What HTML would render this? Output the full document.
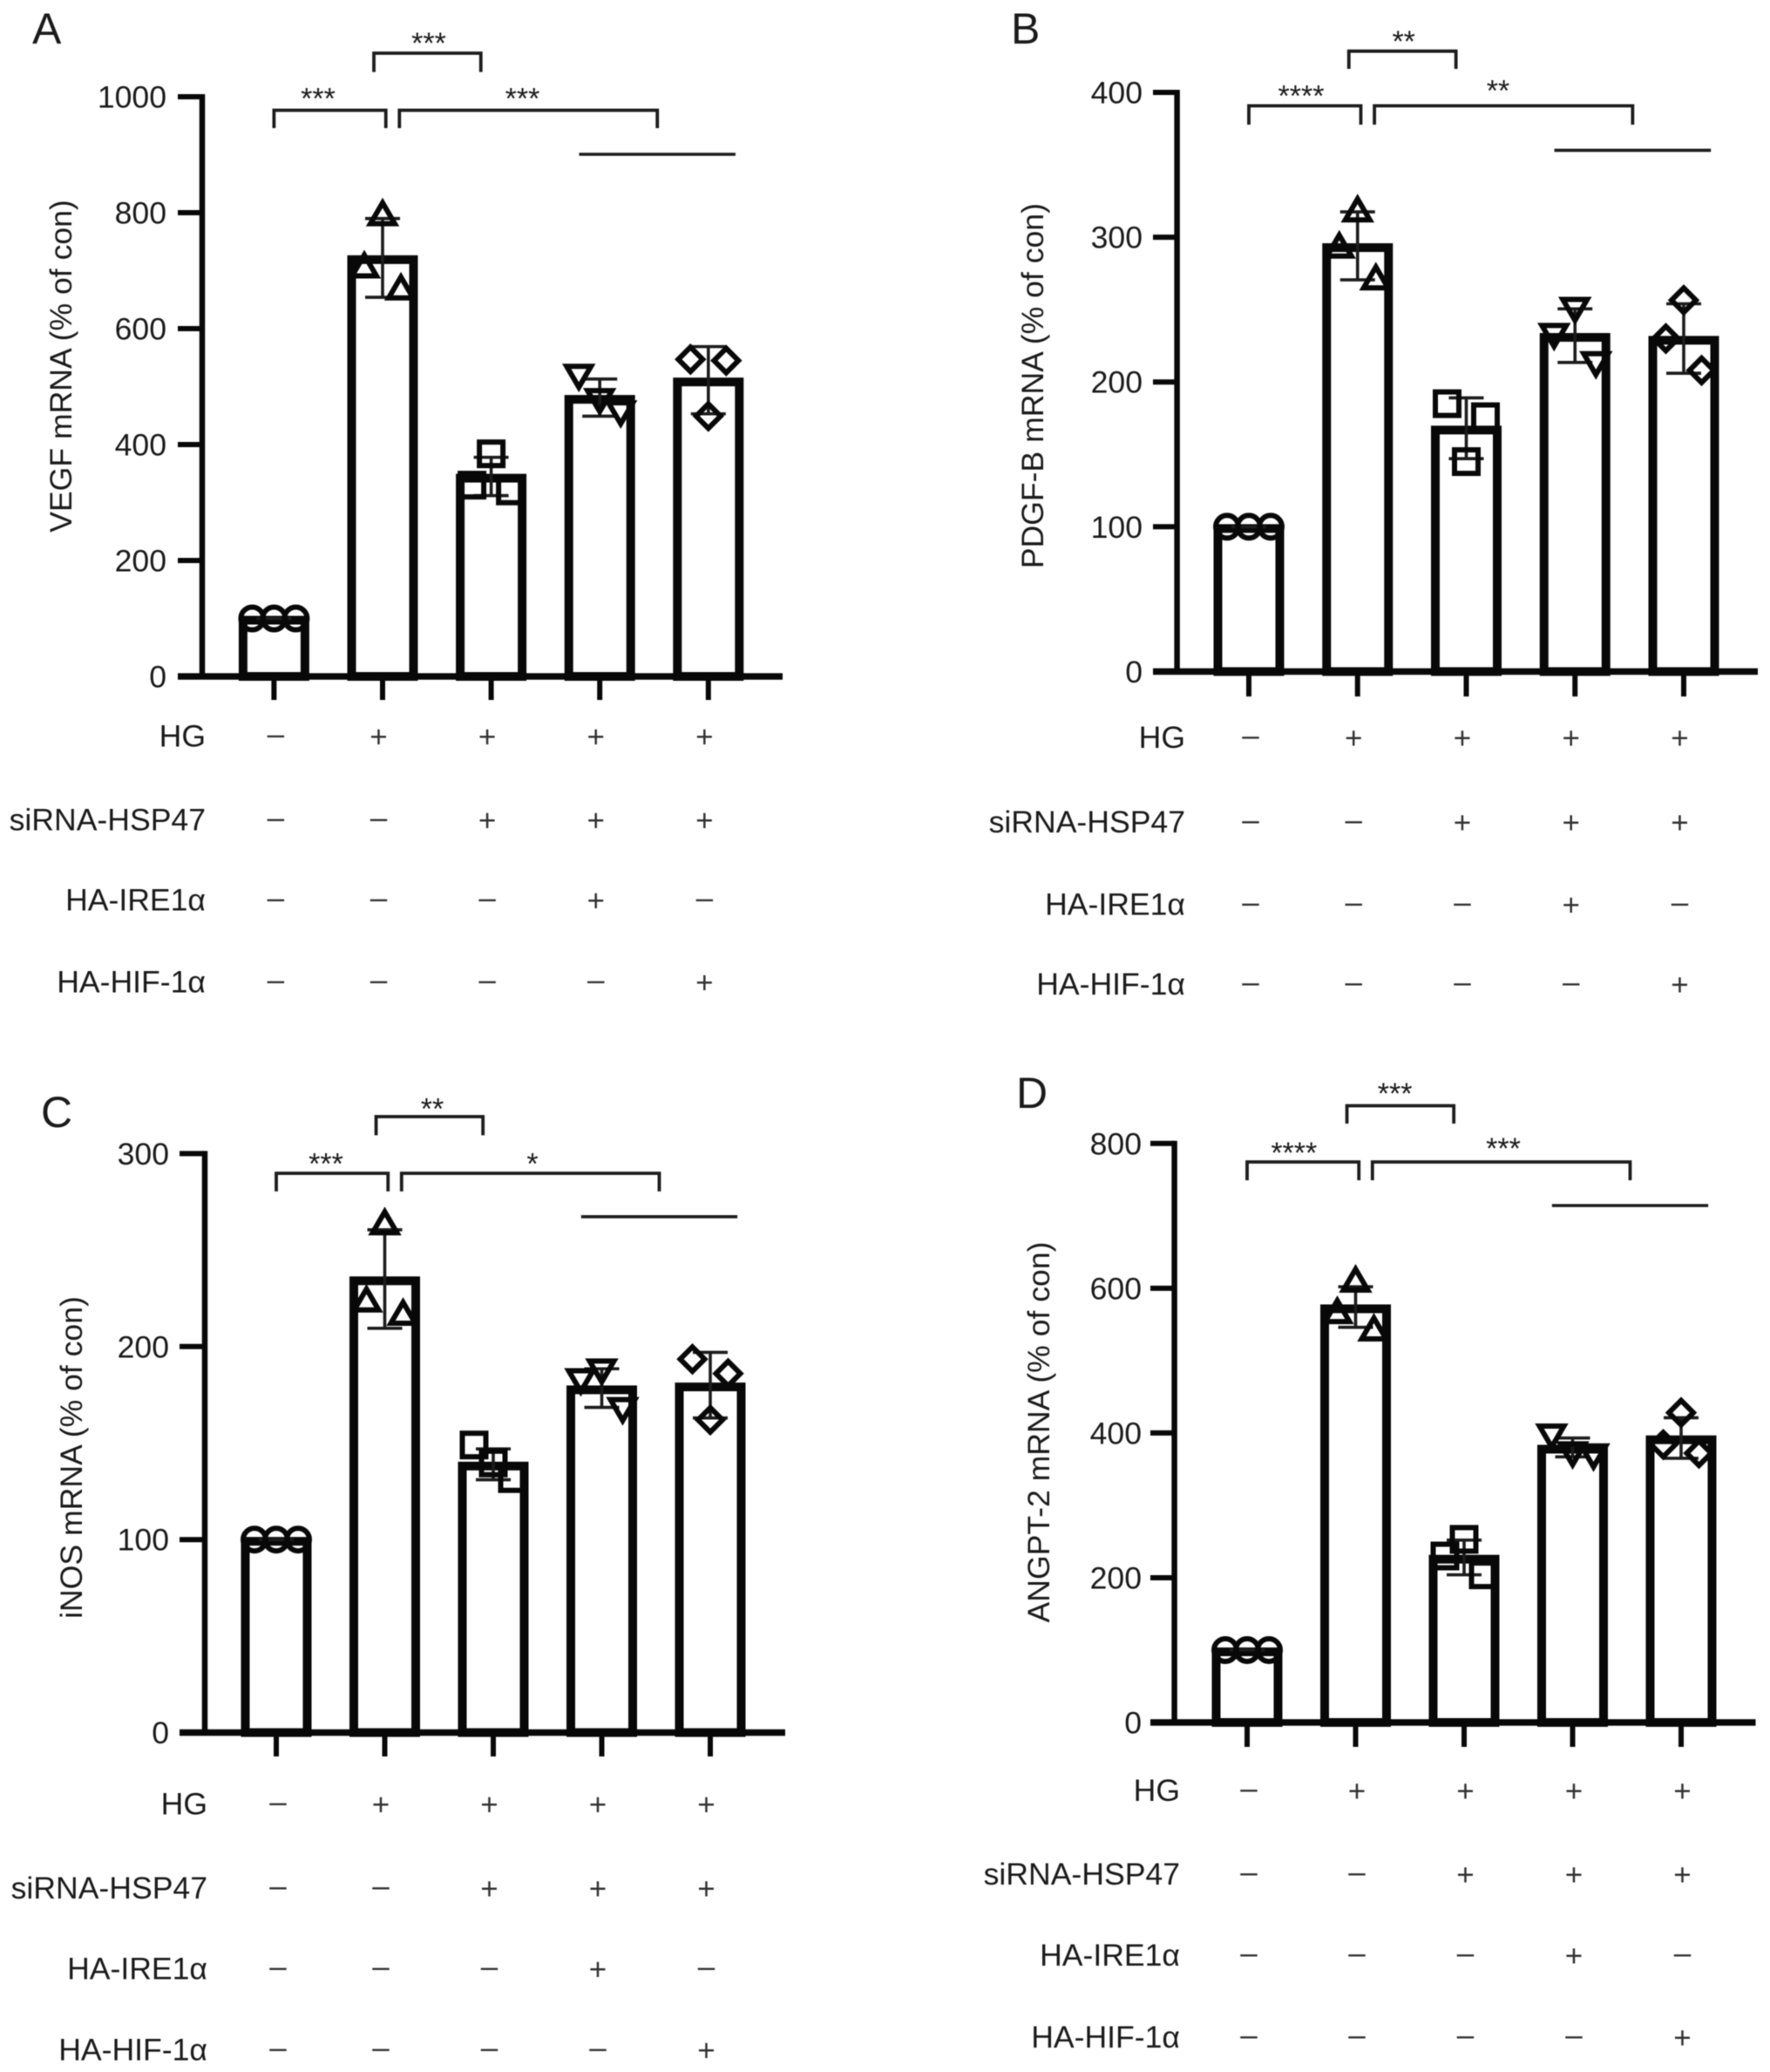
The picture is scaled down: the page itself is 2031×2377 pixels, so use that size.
<!DOCTYPE html>
<html lang="en">
<head>
<meta charset="utf-8">
<title>mRNA expression bar charts</title>
<style>
  html, body { margin: 0; padding: 0; background: #fff; }
  #figure { display: block; width: 2031px; height: 2377px; filter: blur(0.6px); }
  text { font-family: "Liberation Sans", "DejaVu Sans", sans-serif; fill: #1a1a1a; }
</style>
</head>
<body>
<svg id="figure" xmlns="http://www.w3.org/2000/svg" width="2031" height="2377" viewBox="0 0 2031 2377"></svg>
<script>
/* ---------- shared categories ---------- */
const categories = ['control', 'HG', 'HG-siHSP47', 'HG-siHSP47-IRE1a', 'HG-siHSP47-HIF1a'];
const rowLabels = ['HG', 'siRNA-HSP47', 'HA-IRE1\u03b1', 'HA-HIF-1\u03b1'];
const rowHG = ['-', '+', '+', '+', '+'];
const rowSiRNA = ['-', '-', '+', '+', '+'];
const rowIRE = ['-', '-', '-', '+', '-'];
const rowHIF = ['-', '-', '-', '-', '+'];

/* ---------- panel A ---------- */
const panelATicks = [0, 200, 400, 600, 800, 1000];
const panelAMeans = [100, 722, 345, 481, 511];
const panelASds = [0, 68, 33, 32, 58];
const panelAPoints = [[100, 100, 100], [706, 796, 668], [330, 384, 320], [520, 478, 457], [547, 449, 545]];
const panelAStars = ['***', '***', '***'];

/* ---------- panel B ---------- */
const panelBTicks = [0, 100, 200, 300, 400];
const panelBMeans = [100, 294, 168, 232, 230];
const panelBSds = [0, 23.5, 21, 18.5, 24];
const panelBPoints = [[100, 100, 100], [293, 318, 271], [185, 145, 176], [233, 251, 213.5], [230, 256.5, 208]];
const panelBStars = ['****', '**', '**'];

/* ---------- panel C ---------- */
const panelCTicks = [0, 100, 200, 300];
const panelCMeans = [100, 235, 139, 178.5, 180];
const panelCSds = [0, 25.5, 8, 10, 17];
const panelCPoints = [[100, 100, 100], [223.5, 263.5, 216.6], [149, 139.7, 131.6], [183, 188, 168], [193.5, 162, 186]];
const panelCStars = ['***', '**', '*'];

/* ---------- panel D ---------- */
const panelDTicks = [0, 200, 400, 600, 800];
const panelDMeans = [100, 574, 228, 380, 393];
const panelDSds = [0, 28, 24, 13, 28];
const panelDPoints = [[100, 100, 100], [566, 609.5, 542], [230, 253, 204], [397.5, 373, 370], [384, 428, 372]];
const panelDStars = ['****', '***', '***'];

/* ---------- layout (frames only, marks are derived through the axis functions) ---------- */
const layouts = [
  { id: 'a', letter: 'A', letterX: 37, letterY: 50, title: 'VEGF mRNA (% of con)', titleX: 70, titleY: 420,
    axisX: 232, y0: 776, yTop: 111, yMax: 1000, xStart: 204, xEnd: 898, first: 314.4, step: 124.6, signShift: 0,
    tickRight: 191, labelRight: 236, tickBottom: 803, rowY: [846, 942, 1034, 1128],
    bracketLow: [126.5, 147], bracketHigh: [61, 82.6], lineY: 177, starY: [107.6, 44, 107.6], starX: [365, 492, 599.5],
    ticks: panelATicks, means: panelAMeans, sds: panelASds, points: panelAPoints, stars: panelAStars },
  { id: 'b', letter: 'B', letterX: 1160, letterY: 50, title: 'PDGF-B mRNA (% of con)', titleX: 1185, titleY: 442.6,
    axisX: 1350.6, y0: 770.4, yTop: 106, yMax: 400, xStart: 1323, xEnd: 2017, first: 1433, step: 124.75, signShift: 0,
    tickRight: 1311, labelRight: 1360, tickBottom: 799, rowY: [847.5, 944.5, 1039, 1130.5],
    bracketLow: [121.4, 143], bracketHigh: [58.7, 79], lineY: 172.4, starY: [104.6, 42, 98.5], starX: [1493, 1610.7, 1719],
    ticks: panelBTicks, means: panelBMeans, sds: panelBSds, points: panelBPoints, stars: panelBStars },
  { id: 'c', letter: 'C', letterX: 47, letterY: 1293, title: 'iNOS mRNA (% of con)', titleX: 82, titleY: 1672,
    axisX: 235, y0: 1987.6, yTop: 1323.4, yMax: 300, xStart: 206, xEnd: 901, first: 317, step: 124.5, signShift: 0,
    tickRight: 194, labelRight: 238, tickBottom: 2015, rowY: [2071, 2167.5, 2260, 2353],
    bracketLow: [1346, 1366.7], bracketHigh: [1281, 1302.4], lineY: 1395.8, starY: [1329.5, 1266.7, 1329.5], starX: [374, 496, 611],
    ticks: panelCTicks, means: panelCMeans, sds: panelCSds, points: panelCPoints, stars: panelCStars },
  { id: 'd', letter: 'D', letterX: 1166, letterY: 1271, title: 'ANGPT-2 mRNA (% of con)', titleX: 1192, titleY: 1643,
    axisX: 1347.6, y0: 1976, yTop: 1311.8, yMax: 800, xStart: 1320, xEnd: 2014.5, first: 1431, step: 124.5, signShift: 6,
    tickRight: 1310, labelRight: 1354, tickBottom: 2004, rowY: [2055.5, 2151.5, 2244.5, 2338.5],
    bracketLow: [1333, 1354], bracketHigh: [1268.5, 1289], lineY: 1383, starY: [1317, 1249, 1312], starX: [1484.8, 1600.6, 1725],
    ticks: panelDTicks, means: panelDMeans, sds: panelDSds, points: panelDPoints, stars: panelDStars }
];

const markerKinds = ['circle', 'triangle-up', 'square', 'triangle-down', 'diamond'];
const slotOrder = [-1, 0, 1];
const slotSpread = [25, 21, 22, 24, 20.5];

const SVG_NS = 'http://www.w3.org/2000/svg';
const INK = '#080808';
const LINE = '#1c1c1c';
const figure = document.getElementById('figure');

function shape(parent, tag, attrs) {
  const el = document.createElementNS(SVG_NS, tag);
  for (const k in attrs) el.setAttribute(k, attrs[k]);
  parent.appendChild(el);
  return el;
}
function label(parent, str, attrs) {
  const el = shape(parent, 'text', attrs);
  el.textContent = str;
  return el;
}
function markerShape(parent, kind, cx, cy) {
  const style = { fill: 'none', stroke: INK, 'stroke-width': 6, 'stroke-linejoin': 'miter' };
  if (kind === 'circle') return shape(parent, 'circle', Object.assign({ cx: cx, cy: cy, r: 13 }, style));
  if (kind === 'square') return shape(parent, 'rect', Object.assign({ x: cx - 13.5, y: cy - 13.5, width: 27, height: 27 }, style));
  let pts;
  if (kind === 'triangle-up') pts = [[cx, cy - 14], [cx + 14, cy + 10], [cx - 14, cy + 10]];
  else if (kind === 'triangle-down') pts = [[cx, cy + 14], [cx + 14, cy - 10], [cx - 14, cy - 10]];
  else pts = [[cx, cy - 14], [cx + 14, cy], [cx, cy + 14], [cx - 14, cy]];
  return shape(parent, 'polygon', Object.assign({ points: pts.map(p => p.join(',')).join(' ') }, style));
}

layouts.forEach(function (p) {
  const yScale = v => p.y0 - (v / p.yMax) * (p.y0 - p.yTop);
  const xScale = i => p.first + i * p.step;
  const columnX = i => xScale(i) + (i === 0 ? 2 : -4.5 + p.signShift);

  const g = shape(figure, 'g', {});
  
  

  const letter = label(g, p.letter, { x: p.letterX, y: p.letterY, 'font-size': 50 });
  
  

  const title = label(g, p.title, {
    x: p.titleX + 12, y: p.titleY, 'font-size': 35.6, 'text-anchor': 'middle',
    transform: 'rotate(-90 ' + (p.titleX + 12) + ' ' + p.titleY + ')'
  });
  
  

  /* bars */
  categories.forEach(function (cat, i) {
    const top = yScale(p.means[i]) + 2;
    const bar = shape(g, 'rect', {
      x: xScale(i) - 35.5, y: top, width: 71, height: p.y0 - top,
      fill: '#fff', stroke: INK, 'stroke-width': 10
    });
    
    
  });

  /* error bars */
  categories.forEach(function (cat, i) {
    const hi = yScale(p.means[i] + p.sds[i]);
    const lo = yScale(p.means[i] - p.sds[i]);
    const cx = xScale(i);
    const eb = shape(g, 'path', {
      d: 'M' + cx + ' ' + hi + 'V' + lo + 'M' + (cx - 20) + ' ' + hi + 'H' + (cx + 20) + 'M' + (cx - 20) + ' ' + lo + 'H' + (cx + 20),
      fill: 'none', stroke: LINE, 'stroke-width': 3.6
    });
    
    
  });

  /* data points */
  categories.forEach(function (cat, i) {
    p.points[i].forEach(function (v, j) {
      const m = markerShape(g, markerKinds[i], xScale(i) + slotOrder[j] * slotSpread[i], yScale(v));
      
      
    });
  });

  /* y axis */
  const yAxis = shape(g, 'line', { x1: p.axisX, x2: p.axisX, y1: yScale(p.yMax) - 3, y2: p.y0, stroke: INK, 'stroke-width': 6.5 });
  
  
  p.ticks.forEach(function (t) {
    const tk = shape(g, 'line', { x1: p.xStart, x2: p.axisX, y1: yScale(t), y2: yScale(t), stroke: INK, 'stroke-width': 6 });
    
    
    const tl = label(g, String(t), { x: p.tickRight, y: yScale(t) + 12.5, 'font-size': 35.6, 'text-anchor': 'end' });
    
    
  });

  /* x axis */
  const xAxis = shape(g, 'line', { x1: p.xStart, x2: p.xEnd, y1: p.y0, y2: p.y0, stroke: INK, 'stroke-width': 7.5 });
  
  
  categories.forEach(function (cat, i) {
    const xt = shape(g, 'line', { x1: xScale(i), x2: xScale(i), y1: p.y0, y2: p.tickBottom, stroke: INK, 'stroke-width': 6 });
    
    
  });

  /* treatment rows */
  [rowHG, rowSiRNA, rowIRE, rowHIF].forEach(function (row, r) {
    const rl = label(g, rowLabels[r], { x: p.labelRight, y: p.rowY[r] + 10.5, 'font-size': 35.6, 'text-anchor': 'end' });
    
    
    row.forEach(function (sign, i) {
      const isPlus = sign === '+';
      const s = label(g, isPlus ? '+' : '\u2013', {
        x: columnX(i), y: p.rowY[r] + (isPlus ? 11 : 8), 'font-size': 35, 'text-anchor': 'middle', style: 'fill:#333'
      });
      
      
    });
  });

  /* significance brackets, given in category units */
  const brackets = [
    { from: 0, to: 1.03, lv: p.bracketLow },
    { from: 0.92, to: 1.905, lv: p.bracketHigh },
    { from: 1.155, to: 3.53, lv: p.bracketLow }
  ];
  brackets.forEach(function (b, k) {
    const x1 = xScale(b.from), x2 = xScale(b.to);
    const path = shape(g, 'path', {
      d: 'M' + x1 + ' ' + b.lv[1] + 'V' + b.lv[0] + 'H' + x2 + 'V' + b.lv[1],
      fill: 'none', stroke: LINE, 'stroke-width': 3.8
    });
    
    
    const star = label(g, p.stars[k], {
      x: p.starX[k], y: p.starY[k] + 17, 'font-size': 34, 'text-anchor': 'middle'
    });
    
    
  });
  const group = shape(g, 'line', { x1: xScale(2.81), x2: xScale(4.25), y1: p.lineY, y2: p.lineY, stroke: LINE, 'stroke-width': 3.6 });
  
  
});
</script>
</body>
</html>
